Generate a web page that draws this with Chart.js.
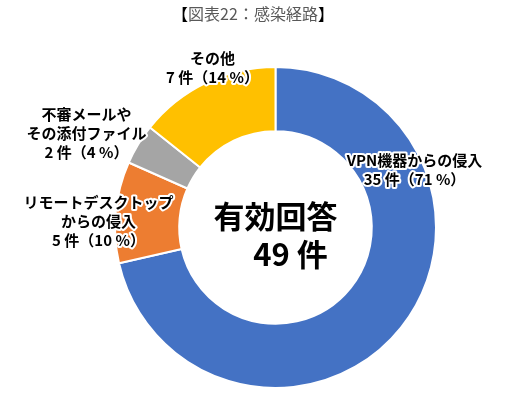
<!DOCTYPE html>
<html>
<head>
<meta charset="utf-8">
<script src="https://cdn.jsdelivr.net/npm/chart.js@4"></script>
<style>
  html, body { margin: 0; padding: 0; background: #fff; }
  #wrap { width: 506px; height: 400px; position: relative; }
</style>
</head>
<body>
<div id="wrap"><canvas id="chart" width="506" height="400"></canvas></div>
<script>
// 感染経路（有効回答 49 件）
const categories = ['VPN機器からの侵入', 'リモートデスクトップからの侵入', '不審メールやその添付ファイル', 'その他'];
const counts = [35, 5, 2, 7];
const percents = [71, 10, 4, 14];
// ラベルの行分け（表示用）
const labelLines = [
    ['VPN機器からの侵入'],
    ['リモートデスクトップ', 'からの侵入'],
    ['不審メールや', 'その添付ファイル'],
    ['その他']
];
const colors = ['#4472C4', '#ED7D31', '#A5A5A5', '#FFC000'];
const total = counts.reduce((a, b) => a + b, 0);

// ラベル位置（円の中心からのずれ, px）
const labelOffset = [
    { x: 139, y: -58 },
    { x: -177, y: -6 },
    { x: -189, y: -94 },
    { x: -63, y: -160 }
];

const FONT = '"Noto Sans CJK JP", "Noto Sans", sans-serif';

const textPlugin = {
    id: 'texts',
    afterDraw(chart) {
        const ctx = chart.ctx;
        const arc = chart.getDatasetMeta(0).data[0];
        const cx = arc.x, cy = arc.y;

        ctx.save();
        ctx.textAlign = 'center';
        ctx.textBaseline = 'middle';

        // タイトル
        ctx.font = '16px ' + FONT;
        const parts = [['【', '#000'], ['図表22：感染経路', '#595959'], ['】', '#000']];
        let w = 0;
        parts.forEach(p => w += ctx.measureText(p[0]).width);
        let x = 253 - w / 2;
        ctx.textAlign = 'left';
        parts.forEach(p => {
            ctx.fillStyle = p[1];
            ctx.fillText(p[0], x, 14);
            x += ctx.measureText(p[0]).width;
        });
        ctx.textAlign = 'center';

        // 各ラベル
        ctx.font = 'bold 15px ' + FONT;
        ctx.lineJoin = 'round';
        categories.forEach((c, i) => {
            const lines = labelLines[i].concat([counts[i] + ' 件（' + percents[i] + ' %）']);
            const lh = 19;
            const y0 = cy + labelOffset[i].y - (lines.length - 1) * lh / 2;
            lines.forEach((t, k) => {
                const lx = cx + labelOffset[i].x, ly = y0 + k * lh;
                ctx.strokeStyle = '#fff';
                ctx.lineWidth = 4;
                ctx.strokeText(t, lx, ly);
                ctx.fillStyle = '#000';
                ctx.fillText(t, lx, ly);
            });
        });

        // 中央テキスト
        ctx.fillStyle = '#000';
        ctx.font = 'bold 31px ' + FONT;
        ctx.fillText('有効回答', cx, cy - 11);
        ctx.fillText(total + ' 件', cx + 15, cy + 27);
        ctx.restore();
    }
};

new Chart(document.getElementById('chart'), {
    type: 'doughnut',
    data: {
        labels: categories,
        datasets: [{
            data: counts,
            backgroundColor: colors,
            borderColor: '#fff',
            borderWidth: 2
        }]
    },
    options: {
        responsive: false,
        animation: false,
        cutout: '60%',
        layout: { padding: { top: 66, bottom: 11, left: 114, right: 69 } },
        plugins: {
            legend: { display: false },
            tooltip: { enabled: false },
            title: { display: false }
        }
    },
    plugins: [textPlugin]
});
</script>
</body>
</html>
